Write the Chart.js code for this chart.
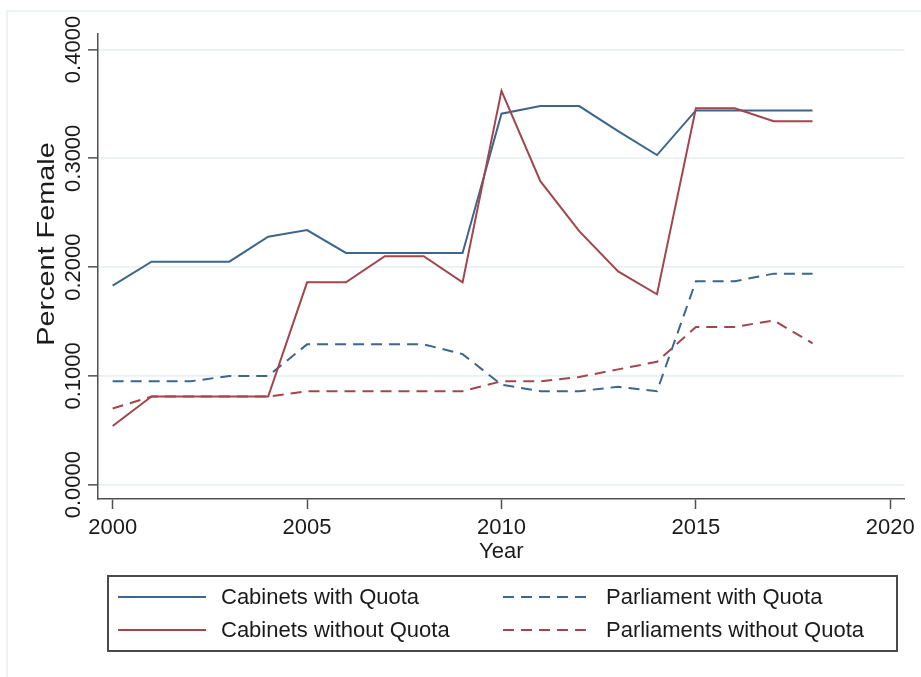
<!DOCTYPE html>
<html>
<head>
<meta charset="utf-8">
<script src="https://cdn.jsdelivr.net/npm/chart.js@4.4.1/dist/chart.umd.min.js"></script>
<style>
  html,body{margin:0;padding:0;background:#fff;}
  #wrap{width:921px;height:677px;}
</style>
</head>
<body>
<div id="wrap"><canvas id="chart" width="921" height="677"></canvas></div>
<script>
// share of women, by year
const years = [2000,2001,2002,2003,2004,2005,2006,2007,2008,2009,2010,2011,2012,2013,2014,2015,2016,2017,2018];
const cabinetsQuota     = [0.183,0.205,0.205,0.205,0.228,0.234,0.213,0.213,0.213,0.213,0.341,0.348,0.348,0.325,0.303,0.344,0.344,0.344,0.344];
const cabinetsNoQuota   = [0.054,0.081,0.081,0.081,0.081,0.186,0.186,0.210,0.210,0.186,0.362,0.279,0.233,0.196,0.175,0.346,0.346,0.334,0.334];
const parliamentQuota   = [0.095,0.095,0.095,0.100,0.100,0.129,0.129,0.129,0.129,0.120,0.092,0.086,0.086,0.090,0.086,0.187,0.187,0.194,0.194];
const parliamentNoQuota = [0.070,0.081,0.081,0.081,0.081,0.086,0.086,0.086,0.086,0.086,0.095,0.095,0.099,0.106,0.113,0.145,0.145,0.151,0.130];

const xTicks = [2000,2005,2010,2015,2020];
const yTicks = [0,0.1,0.2,0.3,0.4];

const BLUE = '#3c668d', RED = '#a3454d';
const INK = '#1a1a1a', AXIS = '#505050';
const FONT = '"Liberation Sans", Arial, sans-serif';
const DASH = [11,7];

function pts(arr){ return years.map((yr,i)=>({x:yr, y:arr[i]})); }

// legend laid out in two columns: [col][row] -> dataset index
const legendCols = [[0,1],[2,3]];

const stataExtras = {
  id:'stataExtras',
  beforeDraw(chart){
    const ctx = chart.ctx;
    ctx.save();
    ctx.fillStyle = '#fff';
    ctx.fillRect(0,0,chart.width,chart.height);
    ctx.strokeStyle = '#edf3f3';
    ctx.lineWidth = 2;
    ctx.strokeRect(7,11,chart.width+20,chart.height+20);
    ctx.restore();
  },
  afterDraw(chart){
    const ctx = chart.ctx, ys = chart.scales.y;
    ctx.save();
    ctx.fillStyle = INK;
    ctx.font = '22px ' + FONT;
    ctx.textAlign = 'center';
    ctx.textBaseline = 'alphabetic';
    // rotated y tick labels
    ys.ticks.forEach(t=>{
      const py = ys.getPixelForValue(t.value);
      ctx.save();
      ctx.translate(80, py);
      ctx.rotate(-Math.PI/2);
      ctx.fillText(t.value.toFixed(4), 0, 0);
      ctx.restore();
    });
    // y title, a bit wider than the tick text
    ctx.save();
    ctx.font = '24px ' + FONT;
    ctx.translate(54, 244);
    ctx.rotate(-Math.PI/2);
    ctx.scale(1.2, 1);
    ctx.fillText('Percent Female', 0, 0);
    ctx.restore();

    // legend box
    const box = {l:108, t:576, r:897, b:651};
    ctx.strokeStyle = '#4a4a4a';
    ctx.lineWidth = 2;
    ctx.strokeRect(box.l, box.t, box.r-box.l, box.b-box.t);
    const colX = [118, 503];
    const rowY = [597, 630];
    const swatchW = 88;
    ctx.font = '22px ' + FONT;
    ctx.textAlign = 'left';
    ctx.textBaseline = 'middle';
    legendCols.forEach((col,ci)=>{
      col.forEach((di,ri)=>{
        const ds = chart.data.datasets[di];
        const x = colX[ci], y = rowY[ri];
        ctx.save();
        ctx.strokeStyle = ds.borderColor;
        ctx.lineWidth = 2;
        ctx.setLineDash(ds.borderDash || []);
        ctx.beginPath(); ctx.moveTo(x, y); ctx.lineTo(x+swatchW, y); ctx.stroke();
        ctx.restore();
        ctx.fillText(ds.label, x+swatchW+15, y+1);
      });
    });
    ctx.restore();
  }
};

const ctx = document.getElementById('chart');
new Chart(ctx, {
  type:'line',
  data:{
    datasets:[
      { label:'Cabinets with Quota', data:pts(cabinetsQuota), borderColor:BLUE, order:2 },
      { label:'Cabinets without Quota', data:pts(cabinetsNoQuota), borderColor:RED, order:1 },
      { label:'Parliament with Quota', data:pts(parliamentQuota), borderColor:BLUE, borderDash:DASH, order:4 },
      { label:'Parliaments without Quota', data:pts(parliamentNoQuota), borderColor:RED, borderDash:DASH, order:3 }
    ]
  },
  options:{
    responsive:false,
    animation:false,
    layout:{ padding:{ left:0, top:34, right:14, bottom:112 } },
    elements:{
      line:{ borderWidth:2, tension:0, fill:false },
      point:{ radius:0, hoverRadius:0 }
    },
    plugins:{ legend:{display:false}, tooltip:{enabled:false} },
    scales:{
      x:{
        type:'linear',
        min:1999.623, max:2020.367,
        afterBuildTicks:s=>{ s.ticks = xTicks.map(v=>({value:v})); },
        afterFit:s=>{ s.height = 66; },
        grid:{ drawOnChartArea:false, tickLength:10, tickColor:AXIS, tickWidth:1.5 },
        border:{ display:true, color:AXIS, width:1.5 },
        ticks:{ color:INK, font:{family:FONT, size:22}, padding:6, maxRotation:0, callback:v=>String(v) },
        title:{ display:true, text:'Year', color:INK, font:{family:FONT, size:22}, padding:{top:0,bottom:0} }
      },
      y:{
        type:'linear',
        min:-0.01314, max:0.41425,
        afterBuildTicks:s=>{ s.ticks = yTicks.map(v=>({value:v})); },
        afterFit:s=>{ s.width = 98; },
        grid:{ color:'#e9f1f1', lineWidth:1.7, tickLength:10, tickColor:AXIS, tickWidth:1.5 },
        border:{ display:true, color:AXIS, width:1.5 },
        ticks:{ display:false }
      }
    }
  },
  plugins:[stataExtras]
});
</script>
</body>
</html>
